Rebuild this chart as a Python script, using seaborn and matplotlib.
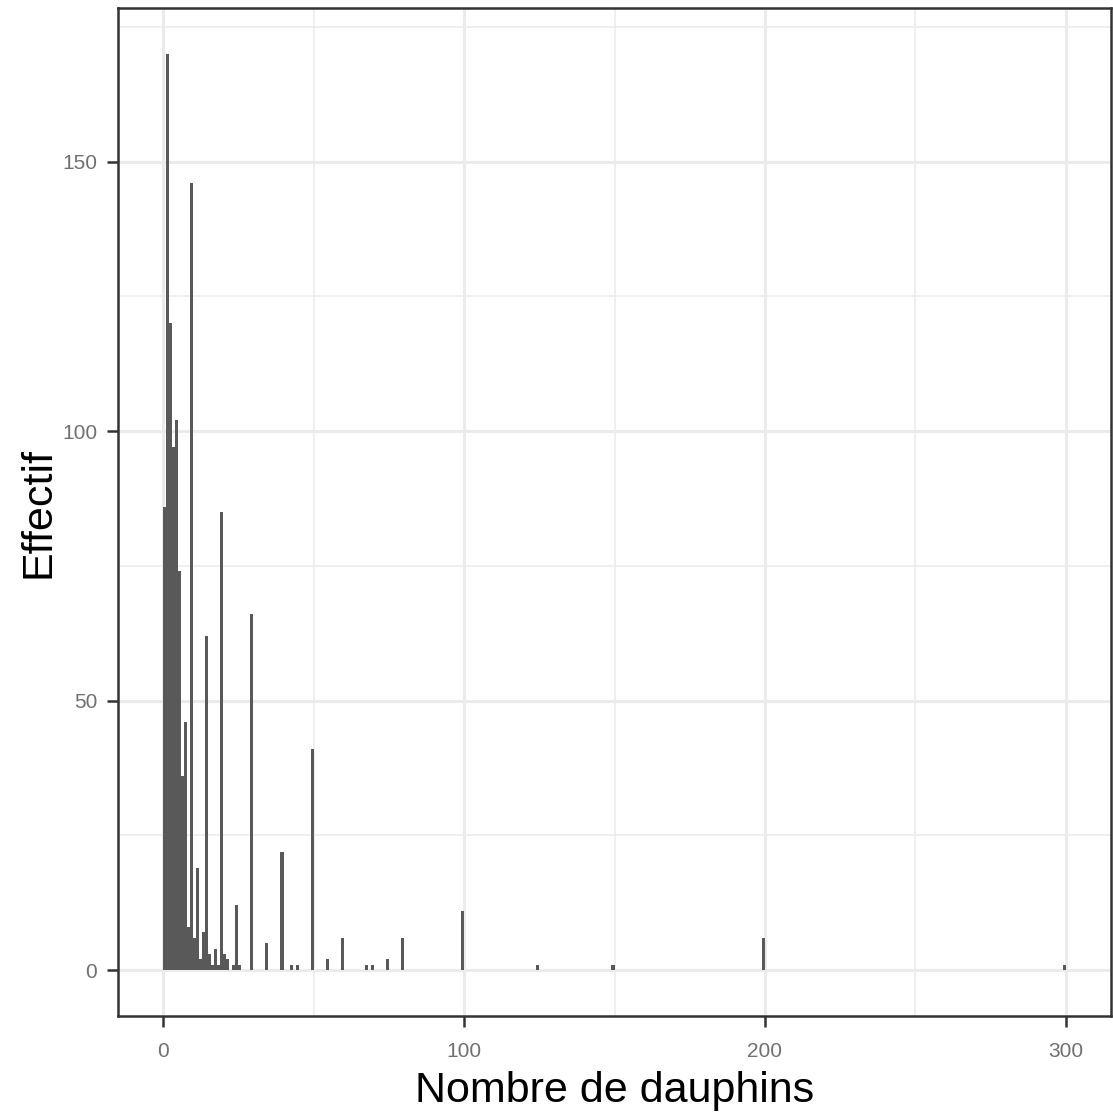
import numpy as np
import pandas as pd
import matplotlib
matplotlib.use("Agg")
import matplotlib.pyplot as plt
import seaborn as sns
from matplotlib.ticker import MultipleLocator

# Data: group size (number of dolphins) and how many sightings had that size
group_size = [1, 2, 3, 4, 5, 6, 7, 8, 9, 10,
              11, 12, 13, 14, 15, 16, 17, 18, 19, 20,
              21, 22, 24, 25, 26, 30, 35, 40, 43, 45,
              50, 55, 60, 68, 70, 75, 80, 100, 125, 150,
              200, 300]
effectif = [86, 170, 120, 97, 102, 74, 36, 46, 8, 146,
            6, 19, 2, 7, 62, 3, 1, 4, 1, 85,
            3, 2, 1, 12, 1, 66, 5, 22, 1, 1,
            41, 2, 6, 1, 1, 2, 6, 11, 1, 1,
            6, 1]

x_ticks = [0, 100, 200, 300]
y_ticks = [0, 50, 100, 150]
x_label = "Nombre de dauphins"
y_label = "Effectif"

df = pd.DataFrame({"taille": group_size, "n": effectif})

sns.set_theme(style="white")
plt.rcParams["font.family"] = ["Liberation Sans", "DejaVu Sans"]

fig = plt.figure(figsize=(11.13, 11.18), dpi=100)
ax = fig.add_axes([118 / 1113, 1 - 1016 / 1118, (1111 - 118) / 1113, (1016 - 8) / 1118])

# binwidth 1, right-closed bins like ggplot's geom_histogram
edges = (np.arange(0, 301) + 1e-6).tolist()
sns.histplot(data=df, x="taille", weights="n", bins=edges, color="#595959",
             alpha=1, linewidth=0, edgecolor="none", ax=ax, zorder=3)

ax.set_xlim(-15, 315)
ax.set_ylim(-8.5, 178.5)
ax.set_xticks(x_ticks)
ax.set_yticks(y_ticks)
ax.xaxis.set_minor_locator(MultipleLocator(50))
ax.yaxis.set_minor_locator(MultipleLocator(25))

ax.set_facecolor("white")
ax.grid(which="major", color="#EBEBEB", linewidth=2.2, zorder=0)
ax.grid(which="minor", color="#EBEBEB", linewidth=1.1, zorder=0)
ax.set_axisbelow(True)

for s in ax.spines.values():
    s.set_color("#333333")
    s.set_linewidth(1.8)
    s.set_visible(True)

ax.tick_params(axis="both", which="major", length=8, width=1.8, color="#333333",
               labelsize=15, labelcolor="#707070")
ax.tick_params(axis="x", which="major", pad=11, bottom=True)
ax.tick_params(axis="y", which="major", pad=7, left=True)
ax.tick_params(axis="both", which="minor", length=0)

ax.set_xlabel(x_label, fontsize=31, color="black")
ax.set_ylabel(y_label, fontsize=31, color="black")
ax.xaxis.label.set_va("baseline")
ax.xaxis.set_label_coords(0.5, -(1102 - 1016) / 1008)
ax.yaxis.set_label_coords(-59 / 993, 0.5)

fig.savefig("out.png", dpi=100)
